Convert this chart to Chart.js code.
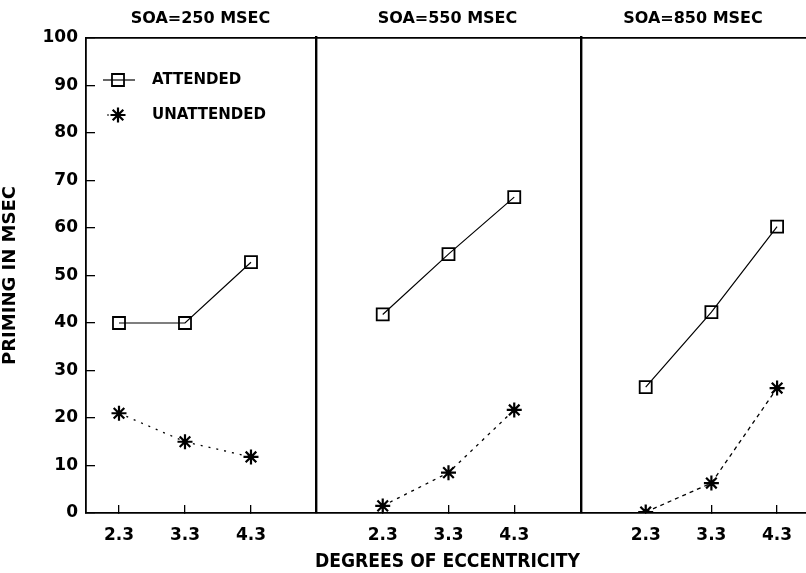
<!DOCTYPE html>
<html>
<head>
<meta charset="utf-8">
<script src="https://cdn.jsdelivr.net/npm/chart.js@4.4.1/dist/chart.umd.min.js"></script>
<style>
  html, body { margin: 0; padding: 0; background: #fff; }
  #wrap { position: relative; width: 806px; height: 573px; }
  .panel { position: absolute; top: 0; height: 573px; }
</style>
</head>
<body>
<div id="wrap">
  <div class="panel" style="left:0;width:315px"><canvas id="p1"></canvas></div>
  <div class="panel" style="left:315px;width:265px"><canvas id="p2"></canvas></div>
  <div class="panel" style="left:580px;width:226px"><canvas id="p3"></canvas></div>
</div>
<script>
const eccentricity = [2.3, 3.3, 4.3];
const panelTitles = ['SOA=250 MSEC', 'SOA=550 MSEC', 'SOA=850 MSEC'];
const attended = [
  [40, 40, 52.8],
  [41.8, 54.5, 66.5],
  [26.5, 42.3, 60.3]
];
const unattended = [
  [21, 15, 11.8],
  [1.5, 8.5, 21.7],
  [0.2, 6.3, 26.3]
];
const yTicks = [0, 10, 20, 30, 40, 50, 60, 70, 80, 90, 100];
const seriesNames = ['ATTENDED', 'UNATTENDED'];

const FONT = "'DejaVu Sans', sans-serif";
const xRanges = [[1.8, 5.27], [1.27, 5.3], [1.3, 4.74]];
const unattendedDash = [[2, 6], [3, 5], [4, 4]];

// panel titles and the legend are drawn on top of the chart area
const decorations = {
  id: 'decorations',
  afterDraw(chart, args, opts) {
    const ctx = chart.ctx;
    const area = chart.chartArea;
    ctx.save();
    ctx.fillStyle = '#000';
    ctx.font = 'bold 16px ' + FONT;
    ctx.textAlign = 'center';
    ctx.textBaseline = 'middle';
    ctx.fillText(opts.title, (area.left + area.right) / 2, area.top - 19);

    if (opts.legend) {
      const helpers = Chart.helpers;
      chart.data.datasets.forEach((ds, i) => {
        const y = area.top + 42 + i * 35;
        const x0 = area.left + 17 + i * 4;
        const x1 = area.left + 49 - i * 8;
        ctx.strokeStyle = '#000';
        ctx.lineWidth = 1.2;
        ctx.setLineDash(ds.borderDash || []);
        ctx.beginPath();
        ctx.moveTo(x0, y);
        ctx.lineTo(x1, y);
        ctx.stroke();
        ctx.setLineDash([]);
        ctx.lineWidth = ds.pointBorderWidth;
        ctx.fillStyle = ds.pointBackgroundColor;
        helpers.drawPoint(ctx, {
          pointStyle: ds.pointStyle,
          radius: ds.pointRadius,
          rotation: 0,
          borderWidth: ds.pointBorderWidth
        }, area.left + 32, y);
        ctx.fillStyle = '#000';
        ctx.font = 'bold 15px ' + FONT;
        ctx.textAlign = 'left';
        ctx.fillText(ds.label, area.left + 66, y);
      });
    }
    ctx.restore();
  }
};

function makePanel(id, p) {
  const first = p === 0;
  const middle = p === 1;
  return new Chart(document.getElementById(id), {
    type: 'line',
    data: {
      datasets: [{
        label: seriesNames[0],
        data: eccentricity.map((x, i) => ({ x: x, y: attended[p][i] })),
        borderColor: '#000',
        borderWidth: 1.2,
        pointStyle: 'rect',
        pointRadius: 8.5,
        pointBorderWidth: 1.8,
        pointBorderColor: '#000',
        pointBackgroundColor: 'rgba(0,0,0,0)',
        tension: 0
      }, {
        label: seriesNames[1],
        data: eccentricity.map((x, i) => ({ x: x, y: unattended[p][i] })),
        borderColor: '#000',
        borderWidth: 1.3,
        borderDash: unattendedDash[p],
        pointStyle: 'star',
        pointRadius: 7.5,
        pointBorderWidth: 2.2,
        pointBorderColor: '#000',
        pointBackgroundColor: '#000',
        tension: 0
      }]
    },
    options: {
      responsive: true,
      maintainAspectRatio: false,
      animation: false,
      layout: { autoPadding: false, padding: { top: 38, right: 0, left: 0, bottom: 0 } },
      plugins: {
        legend: { display: false },
        tooltip: { enabled: false },
        decorations: { title: panelTitles[p], legend: first }
      },
      scales: {
        x: {
          type: 'linear',
          position: 'bottom',
          min: xRanges[p][0],
          max: xRanges[p][1],
          afterBuildTicks: s => { s.ticks = eccentricity.map(v => ({ value: v })); },
          afterFit: s => { s.height = 60; s.paddingLeft = 0; s.paddingRight = 0; },
          ticks: {
            callback: v => v.toFixed(1),
            color: '#000',
            font: { family: FONT, size: 17, weight: 'bold' },
            padding: 20,
            maxRotation: 0,
            autoSkip: false
          },
          grid: { drawOnChartArea: false, tickLength: -8, color: '#000', lineWidth: 1.3 },
          border: { display: true, color: '#000', width: 1.8 },
          title: {
            display: middle,
            text: 'DEGREES OF ECCENTRICITY',
            color: '#000',
            font: { family: FONT, size: 19, weight: 'bold' },
            padding: { top: 0, bottom: 0 }
          }
        },
        y: {
          type: 'linear',
          min: 0,
          max: 100,
          afterBuildTicks: s => { s.ticks = yTicks.map(v => ({ value: v })); },
          afterFit: s => { s.width = first ? 86 : 0; s.paddingTop = 0; s.paddingBottom = 0; },
          ticks: {
            display: first,
            color: '#000',
            font: { family: FONT, size: 17, weight: 'bold' },
            padding: 17
          },
          grid: {
            display: first,
            drawOnChartArea: false,
            tickLength: -9,
            color: '#000',
            lineWidth: 1.3
          },
          border: { display: true, color: '#000', width: first ? 1.8 : 4.4 },
          title: {
            display: first,
            text: 'PRIMING IN MSEC',
            color: '#000',
            font: { family: FONT, size: 18, weight: 'bold' },
            padding: { top: 0, bottom: 0 }
          }
        },
        top: {
          type: 'linear',
          position: 'top',
          display: true,
          ticks: { display: false },
          grid: { display: false, drawTicks: false },
          border: { display: true, color: '#000', width: 1.8 },
          afterFit: s => { s.height = 0; s.paddingLeft = 0; s.paddingRight = 0; }
        }
      }
    },
    plugins: [decorations]
  });
}

makePanel('p1', 0);
makePanel('p2', 1);
makePanel('p3', 2);
</script>
</body>
</html>
